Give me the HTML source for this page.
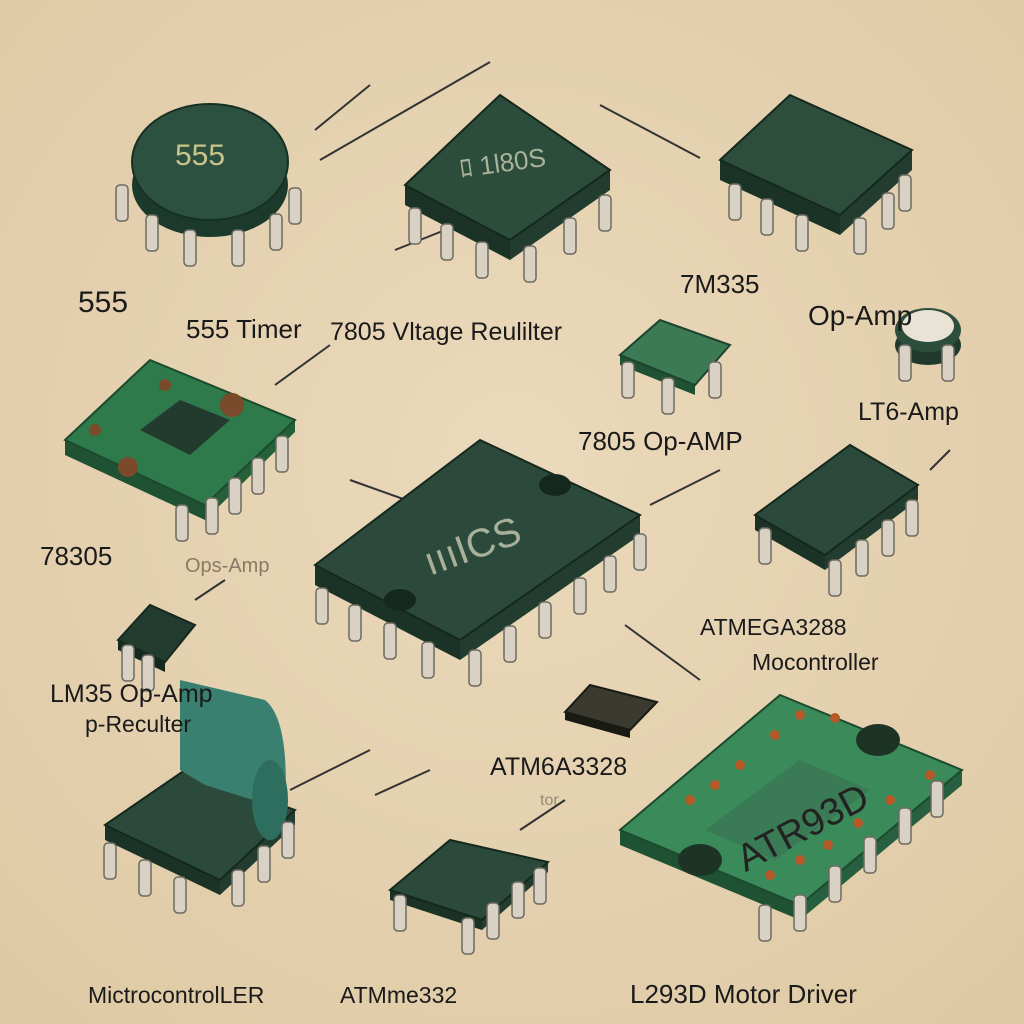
<!DOCTYPE html>
<html><head><meta charset="utf-8"><style>
html,body{margin:0;padding:0;background:#e7d4b3;}
svg{display:block}
text{font-family:"Liberation Sans",sans-serif;fill:#1a1a1a}
</style></head><body>
<svg width="1024" height="1024" viewBox="0 0 1024 1024" xmlns="http://www.w3.org/2000/svg">
<defs>
<radialGradient id="bg" cx="50%" cy="45%" r="75%"><stop offset="0" stop-color="#ead9bb"/><stop offset="1" stop-color="#dfc9a4"/></radialGradient>
<g id="leg"><rect x="-6" y="0" width="12" height="36" rx="4" fill="#d9d2c4" stroke="#6d6a60" stroke-width="1.5"/></g>
</defs>
<rect width="1024" height="1024" fill="url(#bg)"/>
<g stroke="#333" stroke-width="2" fill="none">
<line x1="315" y1="130" x2="370" y2="85"/><line x1="320" y1="160" x2="490" y2="62"/>
<line x1="600" y1="105" x2="700" y2="158"/><line x1="395" y1="250" x2="520" y2="200"/>
<line x1="275" y1="385" x2="330" y2="345"/><line x1="350" y1="480" x2="420" y2="505"/>
<line x1="650" y1="505" x2="720" y2="470"/><line x1="930" y1="470" x2="950" y2="450"/>
<line x1="195" y1="600" x2="225" y2="580"/><line x1="625" y1="625" x2="700" y2="680"/>
<line x1="290" y1="790" x2="370" y2="750"/><line x1="375" y1="795" x2="430" y2="770"/>
<line x1="520" y1="830" x2="565" y2="800"/>
</g>
<!-- 555 round -->
<g>
<ellipse cx="210" cy="185" rx="78" ry="52" fill="#1c3a2c"/>
<ellipse cx="210" cy="162" rx="78" ry="58" fill="#2c5140" stroke="#173024" stroke-width="2"/>
<text x="175" y="165" font-size="30" style="fill:#c9c48a">555</text>
<use href="#leg" x="122" y="185"/><use href="#leg" x="152" y="215"/><use href="#leg" x="190" y="230"/><use href="#leg" x="238" y="230"/><use href="#leg" x="276" y="214"/><use href="#leg" x="295" y="188"/>
</g>
<!-- 7805 chip -->
<g>
<polygon points="405,185 510,240 510,260 405,205" fill="#1b3326"/>
<polygon points="510,240 610,170 610,190 510,260" fill="#223d2f"/>
<polygon points="405,185 500,95 610,170 510,240" fill="#2c4d3c" stroke="#15281e" stroke-width="2"/>
<text x="460" y="175" font-size="26" style="fill:#a9b39a" transform="rotate(-8 480 170)">ﾛ 1l80S</text>
<use href="#leg" x="415" y="208"/><use href="#leg" x="447" y="224"/><use href="#leg" x="482" y="242"/><use href="#leg" x="530" y="246"/><use href="#leg" x="570" y="218"/><use href="#leg" x="605" y="195"/>
</g>
<!-- top right -->
<g>
<polygon points="720,160 840,215 840,235 720,180" fill="#1b3326"/>
<polygon points="840,215 912,150 912,170 840,235" fill="#223d2f"/>
<polygon points="720,160 790,95 912,150 840,215" fill="#2d4e3d" stroke="#15281e" stroke-width="2"/>
<use href="#leg" x="735" y="184"/><use href="#leg" x="767" y="199"/><use href="#leg" x="802" y="215"/><use href="#leg" x="860" y="218"/><use href="#leg" x="888" y="193"/><use href="#leg" x="905" y="175"/>
</g>
<!-- small green -->
<g>
<polygon points="620,355 695,385 695,395 620,365" fill="#1f5232"/>
<polygon points="620,355 660,320 730,345 695,385" fill="#3b7a52" stroke="#1e4430" stroke-width="2"/>
<use href="#leg" x="628" y="362"/><use href="#leg" x="668" y="378"/><use href="#leg" x="715" y="362"/></g>
<!-- small round -->
<g>
<ellipse cx="928" cy="345" rx="33" ry="20" fill="#1f3a2c"/>
<ellipse cx="928" cy="330" rx="33" ry="22" fill="#2d4e3c"/>
<ellipse cx="928" cy="326" rx="26" ry="16" fill="#e8e3d4"/>
<use href="#leg" x="905" y="345"/><use href="#leg" x="948" y="345"/></g>
<!-- PCB left -->
<g>
<polygon points="65,440 205,505 205,520 65,455" fill="#1f5232"/>
<polygon points="205,505 295,420 295,432 205,520" fill="#246038"/>
<polygon points="65,440 150,360 295,420 205,505" fill="#2f7a4a" stroke="#1b4a2c" stroke-width="2"/>
<polygon points="140,430 180,400 230,420 190,455" fill="#223b2e"/>
<circle cx="128" cy="467" r="10" fill="#7a4a2a"/><circle cx="232" cy="405" r="12" fill="#7a4a2a"/><circle cx="95" cy="430" r="6" fill="#7a4a2a"/><circle cx="165" cy="385" r="6" fill="#7a4a2a"/>
<use href="#leg" x="182" y="505"/><use href="#leg" x="212" y="498"/><use href="#leg" x="235" y="478"/><use href="#leg" x="258" y="458"/><use href="#leg" x="282" y="436"/>
</g>
<!-- big center -->
<g>
<polygon points="315,565 460,640 460,660 315,585" fill="#1b3326"/>
<polygon points="460,640 640,515 640,535 460,660" fill="#223d2f"/>
<polygon points="315,565 480,440 640,515 460,640" fill="#2c4a3b" stroke="#15281e" stroke-width="2"/>
<ellipse cx="400" cy="600" rx="16" ry="11" fill="#15281e"/><ellipse cx="555" cy="485" rx="16" ry="11" fill="#15281e"/>
<text x="420" y="560" font-size="40" style="fill:#a9b09a" transform="rotate(-20 470 540)">ıııICS</text>
<use href="#leg" x="322" y="588"/><use href="#leg" x="355" y="605"/><use href="#leg" x="390" y="623"/><use href="#leg" x="428" y="642"/><use href="#leg" x="475" y="650"/><use href="#leg" x="510" y="626"/><use href="#leg" x="545" y="602"/><use href="#leg" x="580" y="578"/><use href="#leg" x="610" y="556"/><use href="#leg" x="640" y="534"/>
</g>
<!-- right chip -->
<g>
<polygon points="755,515 825,555 825,570 755,530" fill="#1b3326"/>
<polygon points="825,555 918,485 918,500 825,570" fill="#223d2f"/>
<polygon points="755,515 850,445 918,485 825,555" fill="#2c4a3b" stroke="#15281e" stroke-width="2"/>
<use href="#leg" x="765" y="528"/><use href="#leg" x="835" y="560"/><use href="#leg" x="862" y="540"/><use href="#leg" x="888" y="520"/><use href="#leg" x="912" y="500"/>
</g>
<!-- small chip left -->
<g>
<polygon points="118,640 165,662 165,672 118,650" fill="#15281e"/>
<polygon points="118,640 150,605 195,625 165,662" fill="#223d2f" stroke="#15281e" stroke-width="2"/>
<use href="#leg" x="128" y="645"/><use href="#leg" x="148" y="655"/></g>
<!-- small brown chip -->
<polygon points="565,712 630,730 630,738 565,720" fill="#1a1a14"/>
<polygon points="565,712 590,685 657,702 630,730" fill="#3a3a30" stroke="#1a1a14" stroke-width="2"/>
<!-- bottom left chip -->
<g>
<polygon points="105,840 220,895 220,880 105,825" fill="#1b3326"/>
<polygon points="220,880 295,810 295,825 220,895" fill="#223d2f"/>
<polygon points="105,825 185,770 295,810 220,880" fill="#2c4a3b" stroke="#15281e" stroke-width="2"/>
<path d="M180,770 L180,680 L265,700 Q290,720 285,810 L205,785 Z" fill="#3a8070"/>
<ellipse cx="270" cy="800" rx="18" ry="40" fill="#2e6e5e"/>
<use href="#leg" x="110" y="843"/><use href="#leg" x="145" y="860"/><use href="#leg" x="180" y="877"/><use href="#leg" x="238" y="870"/><use href="#leg" x="264" y="846"/><use href="#leg" x="288" y="822"/>
</g>
<!-- bottom middle -->
<g>
<polygon points="390,890 482,920 482,930 390,900" fill="#1b3326"/>
<polygon points="482,920 548,862 548,872 482,930" fill="#223d2f"/>
<polygon points="390,890 450,840 548,862 482,920" fill="#2c4a3b" stroke="#15281e" stroke-width="2"/>
<use href="#leg" x="400" y="895"/><use href="#leg" x="468" y="918"/><use href="#leg" x="493" y="903"/><use href="#leg" x="518" y="882"/><use href="#leg" x="540" y="868"/>
</g>
<!-- bottom right board -->
<g>
<polygon points="620,830 800,905 800,920 620,845" fill="#1f5232"/>
<polygon points="800,905 962,770 962,785 800,920" fill="#266040"/>
<polygon points="620,830 780,695 962,770 800,905" fill="#3b8a5a" stroke="#1b4a2c" stroke-width="2"/>
<ellipse cx="700" cy="860" rx="22" ry="16" fill="#1d3326"/><ellipse cx="878" cy="740" rx="22" ry="16" fill="#1d3326"/>
<polygon points="705,830 800,760 870,790 775,860" fill="#3a7a55"/>
<text x="725" y="850" font-size="38" style="fill:#222" transform="rotate(-28 780 820)">ATR93D</text>
<g fill="#b45a28"><circle cx="690" cy="800" r="5"/><circle cx="715" cy="785" r="5"/><circle cx="740" cy="765" r="5"/><circle cx="775" cy="735" r="5"/><circle cx="800" cy="715" r="5"/><circle cx="835" cy="718" r="5"/><circle cx="930" cy="775" r="5"/><circle cx="890" cy="800" r="5"/><circle cx="858" cy="823" r="5"/><circle cx="828" cy="845" r="5"/><circle cx="800" cy="860" r="5"/><circle cx="770" cy="875" r="5"/></g>
<use href="#leg" x="765" y="905"/><use href="#leg" x="800" y="895"/><use href="#leg" x="835" y="866"/><use href="#leg" x="870" y="837"/><use href="#leg" x="905" y="808"/><use href="#leg" x="937" y="781"/>
</g>
<!-- labels -->
<text x="78" y="312" font-size="30">555</text>
<text x="186" y="338" font-size="26">555 Timer</text>
<text x="330" y="340" font-size="25">7805 Vltage Reulilter</text>
<text x="680" y="293" font-size="26">7M335</text>
<text x="808" y="325" font-size="28">Op-Amp</text>
<text x="858" y="420" font-size="25">LT6-Amp</text>
<text x="578" y="450" font-size="26">7805 Op-AMP</text>
<text x="40" y="565" font-size="26">78305</text>
<text x="185" y="572" font-size="20" style="fill:#8a7a66">Ops-Amp</text>
<text x="700" y="635" font-size="23">ATMEGA3288</text>
<text x="752" y="670" font-size="23">Mocontroller</text>
<text x="50" y="702" font-size="25">LM35 Op-Amp</text>
<text x="85" y="732" font-size="23">p-Reculter</text>
<text x="490" y="775" font-size="25">ATM6A3328</text>
<text x="540" y="805" font-size="16" style="fill:#9a8a76">tor</text>
<text x="88" y="1003" font-size="23">MictrocontrolLER</text>
<text x="340" y="1003" font-size="23">ATMme332</text>
<text x="630" y="1003" font-size="26">L293D Motor Driver</text>
</svg>
</body></html>
